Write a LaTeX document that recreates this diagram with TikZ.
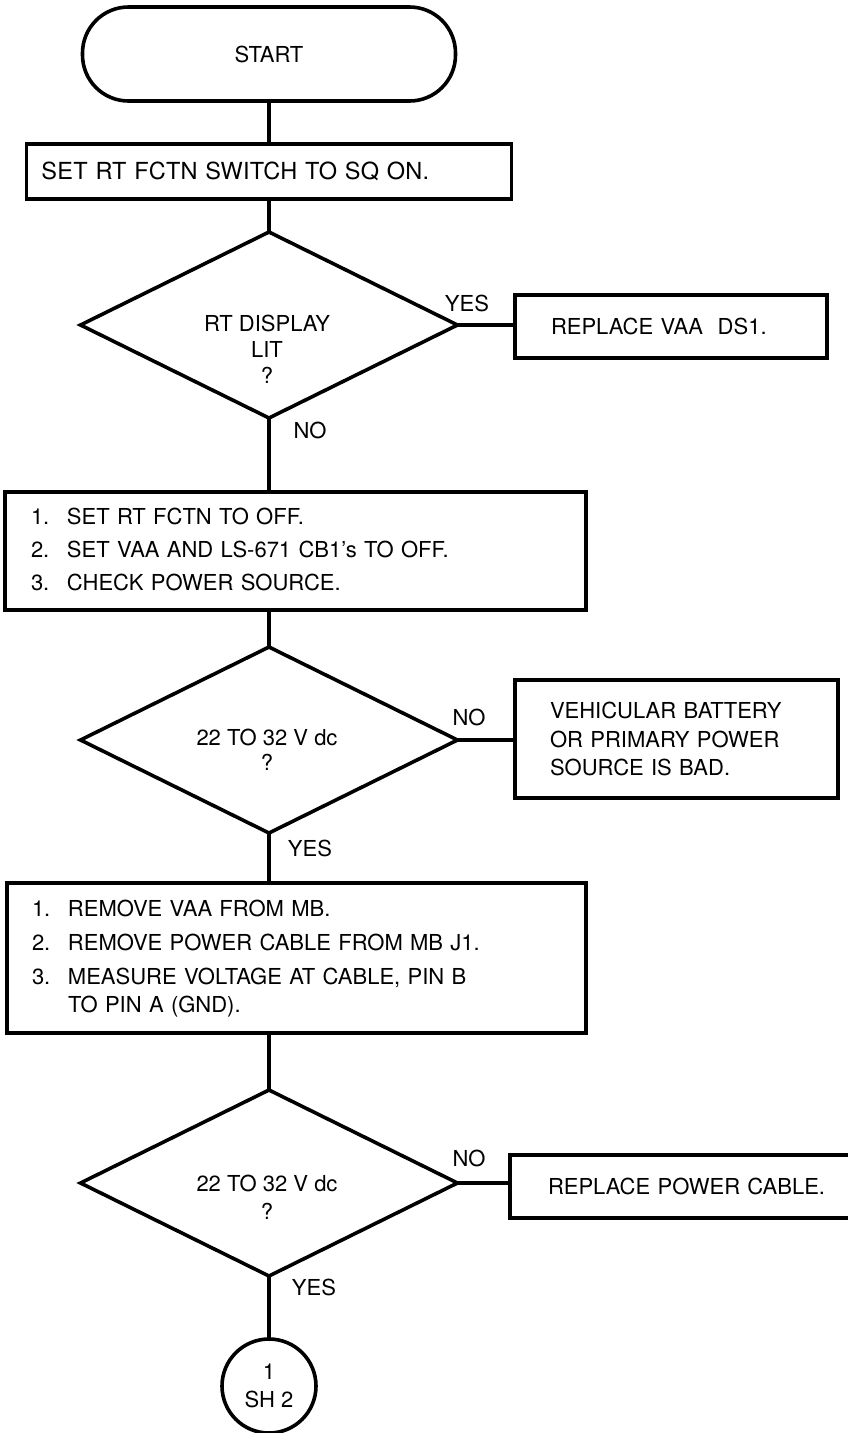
\documentclass[tikz,border=0pt]{standalone}
\usepackage{fontspec}
\setmainfont{TeX Gyre Heros}
\usetikzlibrary{shapes.geometric}
\begin{document}
\begin{tikzpicture}[x=1pt,y=-1pt,
  every node/.style={font=\fontsize{22}{28}\selectfont},
  ln/.style={line width=3.6pt},
  box/.style={draw, line width=3.6pt, rectangle, inner ysep=0pt, outer sep=0pt, align=left},
  dec/.style={draw, line width=3.6pt, diamond, minimum width=377pt, minimum height=186pt, inner sep=0pt, outer sep=0pt},
  dtext/.style={align=center, inner sep=0pt},
  lbl/.style={inner sep=0pt},
]
\useasboundingbox (0,0) rectangle (847,1433);

% start terminal
\node[draw, ln, rounded corners=46pt, minimum width=373pt, minimum height=94pt, inner sep=0pt, outer sep=0pt] (start) at (269,54) {START};

% first action
\node[box, text width=455pt, inner xsep=15pt, minimum height=55pt, font=\fontsize{23.5}{28}\selectfont\addfontfeature{LetterSpace=1}] (b1) at (269,171.5) {SET RT FCTN SWITCH TO SQ ON.};

% decision 1
\node[dec] (d1) at (269,325) {};
\node[dtext, font=\fontsize{22}{26}\selectfont] (d1t) at (267,349) {RT DISPLAY\\LIT\\?};
\node[box, text width=240pt, inner xsep=36pt, minimum height=63pt] (r1) at (671,326.5) {REPLACE VAA\ \ DS1.};
\node[lbl] (yes1) at (467,303) {YES};
\node[lbl] (no1) at (310,430) {NO};

% second action
\node[box, text width=529pt, inner xsep=26pt, minimum height=118pt, font=\fontsize{22}{33}\selectfont] (b2) at (295.5,551) {%
\begin{tabular}{@{}l@{}l@{}}
\makebox[36pt][l]{1.} & SET RT FCTN TO OFF.\\
\makebox[36pt][l]{2.} & SET VAA AND LS-671 CB1's TO OFF.\\
\makebox[36pt][l]{3.} & CHECK POWER SOURCE.
\end{tabular}};

% decision 2
\node[dec] (d2) at (269,740) {};
\node[dtext, font=\fontsize{22}{25}\selectfont] (d2t) at (267,750) {22 TO 32 V dc\\?};
\node[box, text width=253pt, inner xsep=35pt, minimum height=118pt, font=\fontsize{22}{28.5}\selectfont] (r2) at (676.5,739) {VEHICULAR BATTERY\\OR PRIMARY POWER\\SOURCE IS BAD.};
\node[lbl] (no2) at (469,717) {NO};
\node[lbl] (yes2) at (310,848) {YES};

% third action
\node[box, text width=529pt, inner xsep=25pt, minimum height=150pt, font=\fontsize{22}{34}\selectfont] (b3) at (296.5,958) {%
\begin{tabular}{@{}l@{}l@{}}
\makebox[36pt][l]{1.} & REMOVE VAA FROM MB.\\
\makebox[36pt][l]{2.} & REMOVE POWER CABLE FROM MB J1.\\
\makebox[36pt][l]{3.} & MEASURE VOLTAGE AT CABLE, PIN B\\[-6pt]
 & TO PIN A (GND).
\end{tabular}};

% decision 3
\node[dec] (d3) at (269,1183) {};
\node[dtext, font=\fontsize{22}{28}\selectfont] (d3t) at (267,1197) {22 TO 32 V dc\\?};
\node[box, text width=300pt, inner xsep=38pt, minimum height=63pt] (r3) at (698,1186.5) {REPLACE POWER CABLE.};
\node[lbl] (no3) at (469,1158) {NO};
\node[lbl] (yes3) at (314,1287) {YES};

% off-page connector
\node[draw, ln, circle, minimum size=94pt, inner sep=0pt, outer sep=0pt, align=center] (c1) at (269,1386) {1\\SH 2};

% connectors
\draw[ln] (start.south) -- (start.south |- b1.north);
\draw[ln] (d1.north |- b1.south) -- (d1.north);
\draw[ln] (d1.east) -- (d1.east -| r1.west);
\draw[ln] (d1.south) -- (d1.south |- b2.north);
\draw[ln] (d2.north |- b2.south) -- (d2.north);
\draw[ln] (d2.east) -- (d2.east -| r2.west);
\draw[ln] (d2.south) -- (d2.south |- b3.north);
\draw[ln] (d3.north |- b3.south) -- (d3.north);
\draw[ln] (d3.east) -- (d3.east -| r3.west);
\draw[ln] (d3.south) -- (c1.north);
\end{tikzpicture}
\end{document}
